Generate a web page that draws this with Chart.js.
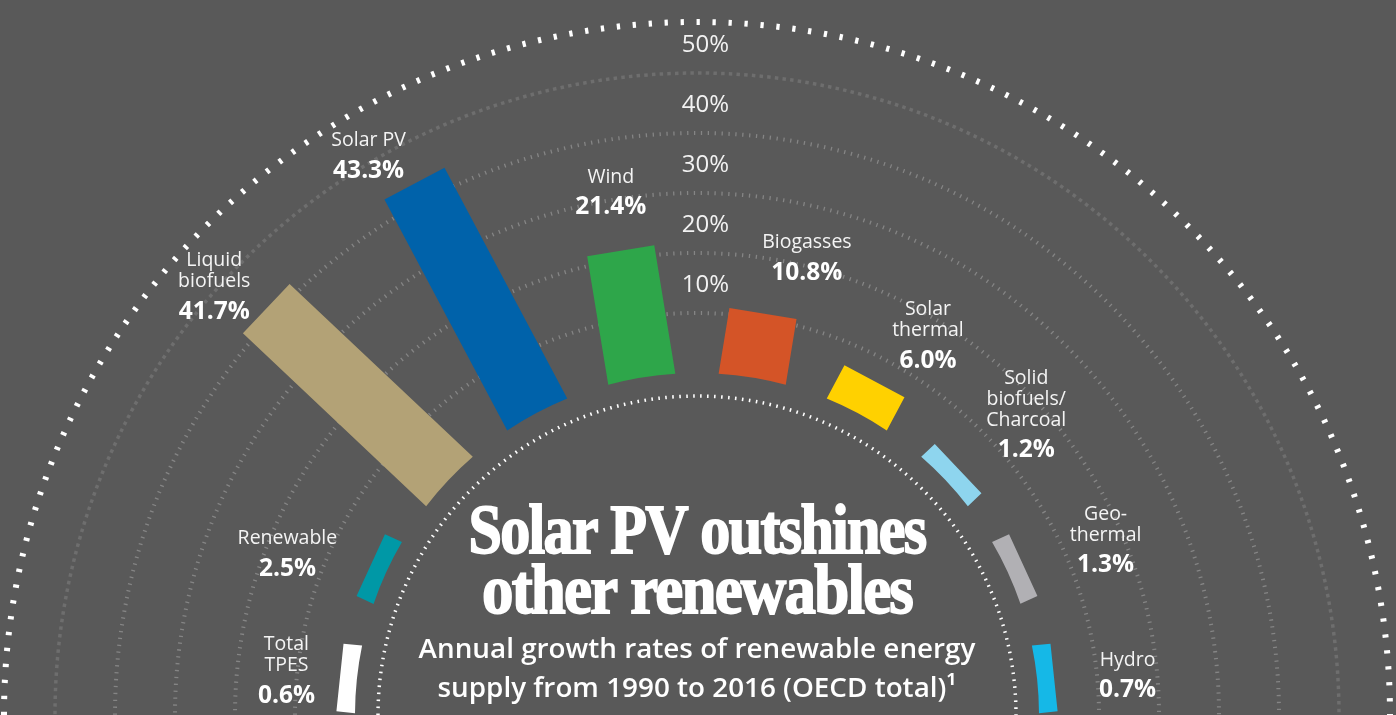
<!DOCTYPE html>
<html>
<head>
<meta charset="utf-8">
<script src="https://cdn.jsdelivr.net/npm/chart.js@4.4.1/dist/chart.umd.min.js"></script>
<style>
  html, body { margin: 0; padding: 0; background: #595959; overflow: hidden; width: 1396px; height: 715px; }
  #wrap { position: absolute; left: 0; top: 0; width: 1396px; height: 1430px; }
</style>
</head>
<body>
<div id="wrap"><canvas id="chart"></canvas></div>
<script>
// ---------------- DATA ----------------
const categories = [
  ["Total", "TPES"],
  ["Renewable"],
  ["Liquid", "biofuels"],
  ["Solar PV"],
  ["Wind"],
  ["Biogasses"],
  ["Solar", "thermal"],
  ["Solid", "biofuels/", "Charcoal"],
  ["Geo-", "thermal"],
  ["Hydro"]
];
const growthRates = [0.6, 2.5, 41.7, 43.3, 21.4, 10.8, 6.0, 1.2, 1.3, 0.7];
const tickValues = [10, 20, 30, 40, 50];
const tickLabels = ["10%", "20%", "30%", "40%", "50%"];
const titleLines = ["Solar PV outshines", "other renewables"];
const subtitleLines = ["Annual growth rates of renewable energy", "supply from 1990 to 2016 (OECD total)\u00B9"];

// ---------------- STYLE / LAYOUT ----------------
const barColors = ["#ffffff", "#0098a6", "#b3a276", "#0062aa", "#2ea64a", "#d45427", "#ffd100", "#8ed5ee", "#b1b0b4", "#15b8e7"];
const BASE_R = 342;        // radius where value 0 sits (inner end of bars)
const PX_PER_UNIT = 6.0;   // pixels per percentage point
const BAR_W = 68;          // bar thickness
const MIN_BAR_LEN = 17;    // minimum visible bar length
const SPAN_DEG = 168;      // angular span between first and last bar centres
const LABEL_GAP = 55;
const LABEL_MIN_R = 443;
const labelNudge = [[30, 1], [-7, 23], [-12, 15], [-20, 20], [-1, -5], [35, -2], [23, 11], [7, 3], [6, 9], [-10, 6]];
const TITLE_BASELINES = [553, 613];
const TITLE_WIDTHS = [457, 430];
const SUB_BASELINES = [658, 697];
const SUB_WIDTH = 557;

const n = growthRates.length;
const stepDeg = SPAN_DEG / (n - 1);
const firstCentreCanvasDeg = 180 + (180 - SPAN_DEG) / 2;
const rStartAngle = firstCentreCanvasDeg - stepDeg / 2 + 90;

const radialBars = {
  id: 'radialBars',
  beforeDatasetsDraw(chart) {
    const ctx = chart.ctx;
    const s = chart.scales.r;
    const cx = s.xCenter, cy = s.yCenter;
    const r0 = s.getDistanceFromCenterForValue(0);

    ctx.save();
    // outer dotted ring at the scale's outer edge
    ctx.strokeStyle = '#ffffff';
    ctx.lineWidth = 6;
    ctx.setLineDash([3.3, 12.7]);
    ctx.beginPath();
    ctx.arc(cx, cy, s.drawingArea - 4, Math.PI, 2 * Math.PI);
    ctx.stroke();
    // inner hub dotted ring
    ctx.lineWidth = 3.5;
    ctx.setLineDash([1.6, 5.4]);
    ctx.beginPath();
    ctx.arc(cx, cy, r0 - 23, Math.PI, 2 * Math.PI);
    ctx.stroke();
    ctx.restore();

    const meta = chart.getDatasetMeta(0);
    const h = BAR_W / 2;
    const phi = Math.asin(h / r0);
    meta.data.forEach((el, i) => {
      const a = (el.startAngle + el.endAngle) / 2;
      const r1 = Math.max(el.outerRadius, r0 + MIN_BAR_LEN);
      ctx.save();
      ctx.translate(el.x, el.y);
      ctx.rotate(a);
      ctx.beginPath();
      ctx.arc(0, 0, r0, -phi, phi);
      ctx.lineTo(r1, h);
      ctx.lineTo(r1, -h);
      ctx.closePath();
      ctx.fillStyle = barColors[i];
      ctx.fill();
      ctx.restore();
    });
    return false;
  },
  afterDraw(chart) {
    const ctx = chart.ctx;
    const s = chart.scales.r;
    const cx = s.xCenter, cy = s.yCenter;
    const r0 = s.getDistanceFromCenterForValue(0);

    ctx.save();
    ctx.textAlign = 'center';
    ctx.textBaseline = 'alphabetic';

    // tick labels, centred in the band above each ring
    ctx.font = '400 24px "Open Sans"';
    ctx.fillStyle = '#f2f2f2';
    tickValues.forEach((v, k) => {
      const rr = (s.getDistanceFromCenterForValue(v) + s.getDistanceFromCenterForValue(v + 10)) / 2;
      ctx.fillText(tickLabels[k], cx + 8.5, cy - rr + 8.6);
    });

    // category labels
    const meta = chart.getDatasetMeta(0);
    meta.data.forEach((el, i) => {
      const a = (el.startAngle + el.endAngle) / 2;
      const rEnd = Math.max(el.outerRadius, r0 + MIN_BAR_LEN);
      const rl = Math.max(rEnd + LABEL_GAP, LABEL_MIN_R);
      const lx = cx + rl * Math.cos(a) + labelNudge[i][0];
      const ly = cy + rl * Math.sin(a) + labelNudge[i][1];
      const names = categories[i];
      const H = (names.length - 1) * 21 + 30 + 22;
      const first = ly - H / 2 + 10;
      ctx.font = '400 19.5px "Open Sans"';
      ctx.fillStyle = '#f4f4f4';
      names.forEach((t, k) => ctx.fillText(t, lx, first + 21 * k + 7));
      ctx.font = '700 24.5px "Open Sans"';
      ctx.fillStyle = '#ffffff';
      ctx.fillText(growthRates[i].toFixed(1) + '%', lx, first + 21 * (names.length - 1) + 30 + 8.5);
    });

    // title
    ctx.fillStyle = '#ffffff';
    ctx.strokeStyle = '#ffffff';
    ctx.font = '700 70px "Liberation Serif"';
    try { ctx.letterSpacing = '-2px'; } catch (e) {}
    titleLines.forEach((t, k) => {
      const w = ctx.measureText(t).width;
      const sx = TITLE_WIDTHS[k] / w;
      ctx.save();
      ctx.translate(cx, TITLE_BASELINES[k]);
      ctx.scale(sx, 1);
      ctx.lineWidth = 1.8;
      ctx.fillText(t, 0, 0);
      ctx.strokeText(t, 0, 0);
      ctx.restore();
    });
    try { ctx.letterSpacing = '0px'; } catch (e) {}

    // subtitle
    ctx.font = '600 26px "Open Sans"';
    const w0 = ctx.measureText(subtitleLines[0]).width;
    const fs = 26 * SUB_WIDTH / w0;
    ctx.font = '600 ' + fs.toFixed(2) + 'px "Open Sans"';
    subtitleLines.forEach((t, k) => ctx.fillText(t, cx, SUB_BASELINES[k]));
    ctx.restore();
  }
};

new Chart(document.getElementById('chart'), {
  type: 'polarArea',
  data: {
    labels: categories,
    datasets: [{
      data: growthRates,
      backgroundColor: barColors,
      borderWidth: 0,
      angle: stepDeg
    }]
  },
  options: {
    responsive: true,
    maintainAspectRatio: false,
    animation: false,
    events: [],
    layout: { padding: { right: 2 } },
    plugins: { legend: { display: false }, tooltip: { enabled: false } },
    scales: {
      r: {
        startAngle: rStartAngle,
        bounds: 'data',
        ticks: { display: false },
        pointLabels: { display: false },
        angleLines: { display: false },
        grid: {
          circular: true,
          color: c => (c.tick && c.tick.value === 50) ? '#6e6e6e' : '#858585',
          lineWidth: c => (c.tick && c.tick.value === 50) ? 3.5 : 4
        },
        border: {
          dash: c => (c.tick && c.tick.value === 50) ? [3.5, 4.2] : [1.3, 5.6]
        },
        afterDataLimits: sc => {
          sc.min = -BASE_R / PX_PER_UNIT;
          sc.max = (sc.drawingArea - BASE_R) / PX_PER_UNIT;
        },
        afterBuildTicks: sc => {
          sc.ticks = tickValues.map(v => ({ value: v }));
        }
      }
    }
  },
  plugins: [radialBars]
});
</script>
</body>
</html>
